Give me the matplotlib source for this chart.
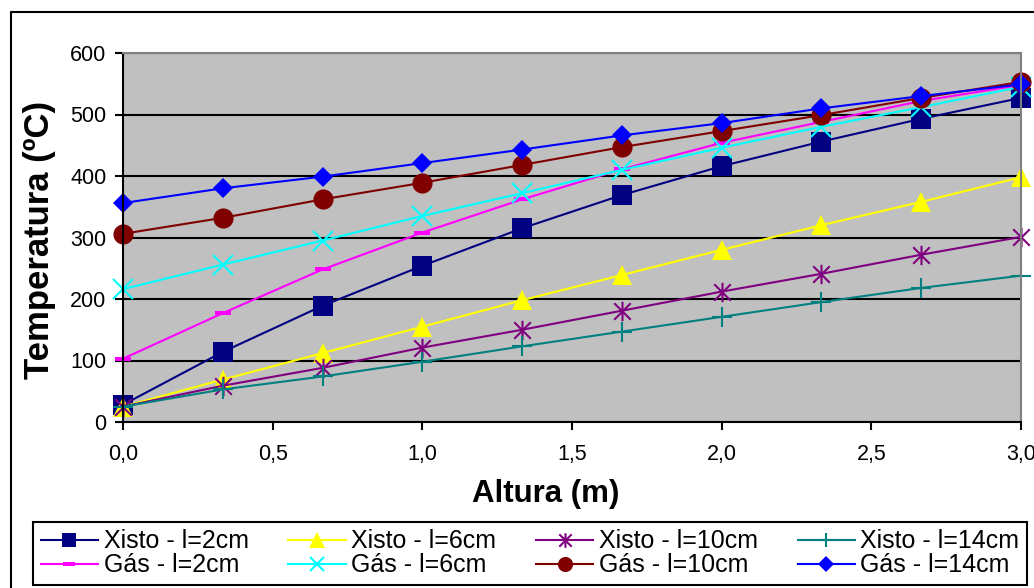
import matplotlib
matplotlib.use("Agg")
import matplotlib.pyplot as plt
from matplotlib.path import Path
from matplotlib.lines import Line2D
from matplotlib.ticker import FuncFormatter, MultipleLocator

plt.rcParams['font.family'] = ['Liberation Sans', 'DejaVu Sans']

altura = [0.0, 1/3, 2/3, 1.0, 4/3, 5/3, 2.0, 7/3, 8/3, 3.0]

xisto_2cm = [28, 114, 189, 254, 315, 369, 416, 456, 493, 527]
xisto_6cm = [25, 69, 112, 155, 198, 239, 280, 320, 358, 398]
xisto_10cm = [25, 59, 88, 121, 150, 181, 212, 241, 272, 301]
xisto_14cm = [25, 53, 74, 98, 123, 147, 171, 195, 218, 238]
gas_2cm = [103, 177, 248, 308, 362, 411, 454, 488, 522, 548]
gas_6cm = [216, 256, 295, 335, 372, 410, 446, 480, 512, 545]
gas_10cm = [306, 332, 362, 389, 418, 447, 473, 499, 527, 553]
gas_14cm = [356, 380, 399, 421, 443, 466, 486, 510, 530, 549]

labels = ["Xisto - l=2cm", "Xisto - l=6cm", "Xisto - l=10cm", "Xisto - l=14cm",
          "Gás - l=2cm", "Gás - l=6cm", "Gás - l=10cm", "Gás - l=14cm"]
series = [xisto_2cm, xisto_6cm, xisto_10cm, xisto_14cm,
          gas_2cm, gas_6cm, gas_10cm, gas_14cm]

star = Path([(0, -1), (0, 1), (-0.85, -0.85), (0.85, 0.85), (-0.85, 0.85), (0.85, -0.85)],
            [Path.MOVETO, Path.LINETO, Path.MOVETO, Path.LINETO, Path.MOVETO, Path.LINETO])
dash = Path([(-1, -0.3), (1, -0.3), (1, 0.3), (-1, 0.3), (-1, -0.3)],
            [Path.MOVETO, Path.LINETO, Path.LINETO, Path.LINETO, Path.CLOSEPOLY])

styles = [
    dict(color='#000080', marker='s', ms=14, mew=0),
    dict(color='#FFFF00', marker='^', ms=15, mew=0),
    dict(color='#800080', marker=star, ms=14, mew=1.5, mfc='none'),
    dict(color='#008080', marker='+', ms=14, mew=1.5),
    dict(color='#FF00FF', marker=dash, ms=11, mew=0),
    dict(color='#00FFFF', marker='x', ms=14, mew=1.5),
    dict(color='#800000', marker='o', ms=14.5, mew=0),
    dict(color='#0000FF', marker='D', ms=10.5, mew=0),
]

W, H = 1034, 588
fig = plt.figure(figsize=(W/100, H/100), dpi=100)
fig.patch.set_facecolor('white')
ax = fig.add_axes([123/W, 1-422/H, (1021-123)/W, (422-53)/H])
ax.set_facecolor('#C0C0C0')

handles = []
for vals, lab, st in zip(series, labels, styles):
    h, = ax.plot(altura, vals, lw=1.5, label=lab, clip_on=False, **st)
    handles.append(h)

ax.set_xlim(0, 3)
ax.set_ylim(0, 600)
ax.xaxis.set_major_locator(MultipleLocator(0.5))
ax.yaxis.set_major_locator(MultipleLocator(100))
ax.xaxis.set_major_formatter(FuncFormatter(lambda v, p: f"{v:.1f}".replace('.', ',')))
ax.yaxis.set_major_formatter(FuncFormatter(lambda v, p: f"{int(v)}"))
ax.grid(axis='y', color='black', lw=1.5)
ax.set_axisbelow(True)
ax.tick_params(axis='both', direction='out', length=6, width=1.5, labelsize=15.5, color='black', pad=6)
ax.tick_params(axis='x', pad=10)
for s in ['left', 'bottom']:
    ax.spines[s].set_color('black')
    ax.spines[s].set_linewidth(1.5)
for s in ['top', 'right']:
    ax.spines[s].set_color('#808080')
    ax.spines[s].set_linewidth(1.5)

fig.text(546/W, 1-494/H, "Altura (m)", ha='center', va='center', fontsize=22.5, fontweight='bold')
fig.text(40/W, 1-240/H, "Temperatura (ºC)", ha='center', va='center', fontsize=25, fontweight='bold', rotation=90)

# outer chart border
fig.add_artist(Line2D([11/W, 11/W, 1.01], [-0.01, 1-12/H, 1-12/H], color='black', lw=1.5,
                      transform=fig.transFigure))

order = [0, 4, 1, 5, 2, 6, 3, 7]
leg = fig.legend([handles[i] for i in order], [labels[i] for i in order],
                 loc='lower left', bbox_to_anchor=(33/W, 1-585/H, (1027-33)/W, 60/H), ncol=4,
                 mode='expand', fontsize=18, frameon=True, fancybox=False, shadow=False,
                 edgecolor='black', framealpha=1, handlelength=2.3, handletextpad=0.22,
                 columnspacing=1.0, labelspacing=0.0, borderpad=0.3, borderaxespad=0,
                 markerscale=0.75)
leg.get_frame().set_linewidth(1.5)

fig.savefig("out.png", dpi=100)
